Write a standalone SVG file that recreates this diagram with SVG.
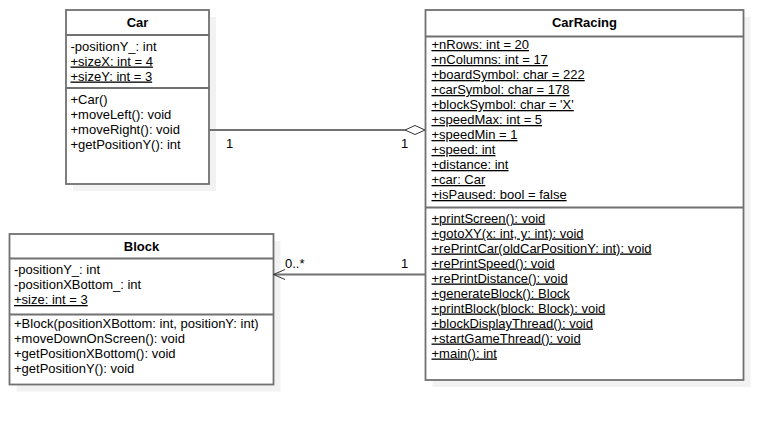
<svg xmlns="http://www.w3.org/2000/svg" width="783" height="425" viewBox="0 0 783 425">
<style>
.shadow{fill:#f2f2f2;stroke:none}
.box{fill:#ffffff;stroke:#717171;stroke-width:1.8}
.div{stroke:#717171;stroke-width:1.8}
text{font-family:"Liberation Sans",Arial,sans-serif;font-size:13px;fill:#000}
.title{font-weight:bold;text-anchor:middle}
.u{text-decoration:underline}
.edge{stroke:#717171;stroke-width:1.8;fill:none}
</style>
<rect width="783" height="425" fill="#ffffff"/>
<g id="Car">
  <rect class="shadow" x="73" y="17" width="143" height="174"/>
  <rect class="box" x="66" y="10" width="143" height="174"/>
  <line class="div" x1="66" y1="35" x2="209" y2="35"/>
  <line class="div" x1="66" y1="88" x2="209" y2="88"/>
  <text class="title" x="137.5" y="27">Car</text>
  <text x="70.5" y="50.5">-positionY_: int</text>
  <text class="u" x="70.5" y="65.5">+sizeX: int = 4</text>
  <text class="u" x="70.5" y="80.5">+sizeY: int = 3</text>
  <text x="70.5" y="103.5">+Car()</text>
  <text x="70.5" y="118.5">+moveLeft(): void</text>
  <text x="70.5" y="133.5">+moveRight(): void</text>
  <text x="70.5" y="148.5">+getPositionY(): int</text>
</g>
<g id="CarRacing">
  <rect class="shadow" x="432.5" y="17" width="318" height="370"/>
  <rect class="box" x="425.5" y="10" width="318" height="370"/>
  <line class="div" x1="425.5" y1="36.5" x2="743.5" y2="36.5"/>
  <line class="div" x1="425.5" y1="207.5" x2="743.5" y2="207.5"/>
  <text class="title" x="584.5" y="26.5">CarRacing</text>
  <text class="u" x="431.5" y="49">+nRows: int = 20</text>
  <text class="u" x="431.5" y="64">+nColumns: int = 17</text>
  <text class="u" x="431.5" y="79">+boardSymbol: char = 222</text>
  <text class="u" x="431.5" y="94">+carSymbol: char = 178</text>
  <text class="u" x="431.5" y="109">+blockSymbol: char = 'X'</text>
  <text class="u" x="431.5" y="124">+speedMax: int = 5</text>
  <text class="u" x="431.5" y="139">+speedMin = 1</text>
  <text class="u" x="431.5" y="154">+speed: int</text>
  <text class="u" x="431.5" y="169">+distance: int</text>
  <text class="u" x="431.5" y="184">+car: Car</text>
  <text class="u" x="431.5" y="199">+isPaused: bool = false</text>
  <text class="u" x="431.5" y="222.5">+printScreen(): void</text>
  <text class="u" x="431.5" y="237.5">+gotoXY(x: int, y: int): void</text>
  <text class="u" x="431.5" y="252.5">+rePrintCar(oldCarPositionY: int): void</text>
  <text class="u" x="431.5" y="267.5">+rePrintSpeed(): void</text>
  <text class="u" x="431.5" y="282.5">+rePrintDistance(): void</text>
  <text class="u" x="431.5" y="297.5">+generateBlock(): Block</text>
  <text class="u" x="431.5" y="312.5">+printBlock(block: Block): void</text>
  <text class="u" x="431.5" y="327.5">+blockDisplayThread(): void</text>
  <text class="u" x="431.5" y="342.5">+startGameThread(): void</text>
  <text class="u" x="431.5" y="357.5">+main(): int</text>
</g>
<g id="Block">
  <rect class="shadow" x="16.5" y="241" width="264" height="150.5"/>
  <rect class="box" x="9.5" y="234" width="264" height="150.5"/>
  <line class="div" x1="9.5" y1="258.5" x2="273.5" y2="258.5"/>
  <line class="div" x1="9.5" y1="314.5" x2="273.5" y2="314.5"/>
  <text class="title" x="141.5" y="251">Block</text>
  <text x="14" y="274">-positionY_: int</text>
  <text x="14" y="289">-positionXBottom_: int</text>
  <text class="u" x="14" y="304">+size: int = 3</text>
  <text x="14" y="327.5">+Block(positionXBottom: int, positionY: int)</text>
  <text x="14" y="342.5">+moveDownOnScreen(): void</text>
  <text x="14" y="357.5">+getPositionXBottom(): void</text>
  <text x="14" y="372.5">+getPositionY(): void</text>
</g>
<g id="connectors">
  <line class="edge" x1="209" y1="130" x2="405" y2="130"/>
  <polygon points="405,130 415,125.5 425,130 415,134.5" fill="#ffffff" stroke="#333" stroke-width="1"/>
  <text x="226" y="148">1</text>
  <text x="401" y="148">1</text>
  <line class="edge" x1="273.5" y1="274.5" x2="425" y2="274.5"/>
  <polyline points="285,269.5 273.5,274.5 285,279.5" fill="none" stroke="#333" stroke-width="1"/>
  <text x="285" y="268">0..*</text>
  <text x="401" y="268">1</text>
</g>
</svg>
